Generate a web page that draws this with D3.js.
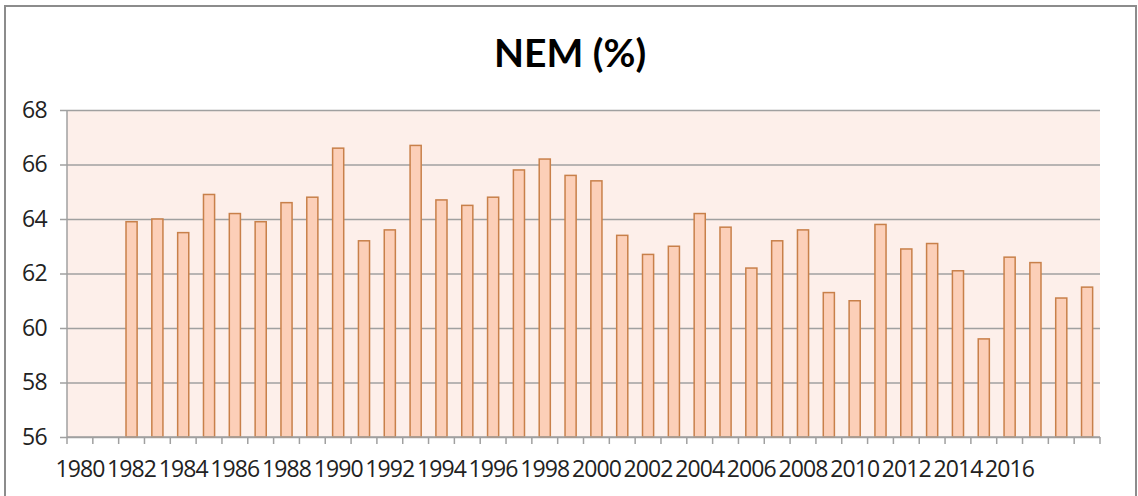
<!DOCTYPE html>
<html>
<head>
<meta charset="utf-8">
<script src="https://cdn.jsdelivr.net/npm/d3@7"></script>
<style>
  html, body { margin: 0; padding: 0; background: #fff; }
  svg { display: block; font-family: "Open Sans", Lato, sans-serif; }
</style>
</head>
<body>
<div id="graph"></div>
<script>
const years = d3.range(1980, 2020).map(String);
const valueYears = d3.range(1982, 2020).map(String);
const nemValues = [
  63.9, 64.0, 63.5, 64.9, 64.2, 63.9, 64.6, 64.8, 66.6, 63.2,
  63.6, 66.7, 64.7, 64.5, 64.8, 65.8, 66.2, 65.6, 65.4, 63.4,
  62.7, 63.0, 64.2, 63.7, 62.2, 63.2, 63.6, 61.3, 61.0, 63.8,
  62.9, 63.1, 62.1, 59.6, 62.6, 62.4, 61.1, 61.5
];
const xTickLabels = d3.range(1980, 2017, 2).map(String);
const yTicks = [56, 58, 60, 62, 64, 66, 68];
const title = 'NEM (%)';

const data = valueYears.map((y, i) => ({ year: y, value: nemValues[i] }));

const width = 1138, height = 496;
const margin = { top: 110, right: 38, bottom: 59, left: 67 };
const plotW = width - margin.left - margin.right;
const plotH = height - margin.top - margin.bottom;

const svg = d3.select('#graph').html('')
  .append('svg')
  .attr('width', width)
  .attr('height', height);

// chart border
svg.append('rect')
  .attr('x', 5).attr('y', 6)
  .attr('width', 1131).attr('height', 500)
  .attr('fill', '#fff')
  .attr('stroke', '#8c8c8c')
  .attr('stroke-width', 2);

svg.append('text')
  .attr('x', 570).attr('y', 67)
  .attr('text-anchor', 'middle')
  .attr('font-family', 'Lato, sans-serif')
  .attr('font-size', 39)
  .attr('font-weight', 'bold')
  .attr('fill', '#000')
  .text(title);

const g = svg.append('g').attr('transform', `translate(${margin.left},${margin.top})`);

const x = d3.scaleBand()
  .domain(years)
  .range([0, plotW])
  .paddingInner(0.57)
  .paddingOuter(0.285);

const xStep = d3.scaleBand().domain(years).range([0, plotW]);

const y = d3.scaleLinear()
  .domain([56, 68])
  .range([plotH, 0]);

// plot background
g.append('rect')
  .attr('width', plotW).attr('height', plotH)
  .attr('fill', '#fdefea');

// gridlines + left ticks
g.append('g')
  .call(d3.axisLeft(y).tickValues(yTicks).tickSize(-plotW - 7).tickFormat(''))
  .attr('transform', 'translate(-7,0)')
  .call(s => s.select('.domain').remove())
  .call(s => s.selectAll('line').attr('stroke', '#a0a0a0').attr('stroke-width', 1.5));

// y labels
g.append('g')
  .call(d3.axisLeft(y).tickValues(yTicks).tickSize(0).tickPadding(20))
  .call(s => s.select('.domain').remove())
  .call(s => s.selectAll('text')
    .attr('font-size', 23)
    .attr('letter-spacing', -0.6)
    .attr('fill', '#222')
    .attr('font-family', '"Open Sans", sans-serif'));

// left axis line
g.append('line')
  .attr('x1', 0).attr('x2', 0)
  .attr('y1', 0).attr('y2', plotH)
  .attr('stroke', '#a0a0a0').attr('stroke-width', 1.5);

// bars
g.selectAll('.bar')
  .data(data)
  .enter().append('rect')
  .classed('bar', true)
  .attr('x', d => x(d.year))
  .attr('y', d => y(d.value))
  .attr('width', x.bandwidth())
  .attr('height', d => plotH - y(d.value))
  .attr('fill', '#fccfb8')
  .attr('stroke', '#c8804a')
  .attr('stroke-width', 1.5);

// bottom axis: ticks at category boundaries
const bottom = g.append('g').attr('transform', `translate(0,${plotH})`);
bottom.append('line')
  .attr('x1', 0).attr('x2', plotW)
  .attr('stroke', '#a0a0a0').attr('stroke-width', 1.5);
bottom.selectAll('.xtick')
  .data(years.concat(['end']))
  .enter().append('line')
  .attr('x1', d => d === 'end' ? plotW : xStep(d))
  .attr('x2', d => d === 'end' ? plotW : xStep(d))
  .attr('y1', 0).attr('y2', 7)
  .attr('stroke', '#a0a0a0').attr('stroke-width', 1.5);
bottom.selectAll('.xlabel')
  .data(xTickLabels)
  .enter().append('text')
  .attr('x', d => xStep(d) + xStep.bandwidth() / 2)
  .attr('y', 40)
  .attr('text-anchor', 'middle')
  .attr('font-size', 23)
  .attr('letter-spacing', -0.9)
  .attr('fill', '#222')
  .text(d => d);
</script>
</body>
</html>
